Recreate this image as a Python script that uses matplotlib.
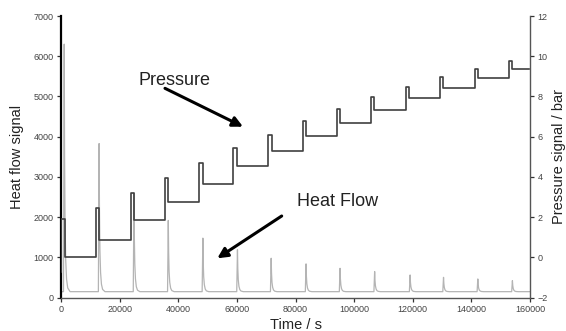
import numpy as np
import matplotlib
matplotlib.use("Agg")
import matplotlib.pyplot as plt

plt.rcParams["font.family"] = ["Liberation Sans", "DejaVu Sans"]

# -------------------------
# DATA
# -------------------------
# heat flow: baseline plus one sharp peak after each pressure step
heat_baseline = 150
peak_times = [1100, 13000, 24900, 36600, 48400, 60200, 71700, 83600,
              95200, 107000, 119100, 130500, 142200, 154000]
peak_heights = [6300, 3830, 2600, 1920, 1480, 1190, 980, 840,
                730, 650, 565, 506, 466, 424]
# peak shape: time offsets (s) and fraction of peak height above baseline
shape_dt = [-250, 0, 120, 280, 500, 800, 1200, 2000]
shape_frac = [0.0, 1.0, 0.55, 0.28, 0.13, 0.05, 0.015, 0.0]

# pressure: start level, then step up, short overshoot, settle on plateau
p_start_time = 0
p_start_level = -0.72
step_times = [0, 12000, 23900, 35500, 47200, 58800, 70750, 82500,
              94100, 105800, 117750, 129350, 141300, 152900]
settle_times = [1360, 13000, 24900, 36500, 48400, 59900, 71850, 83500,
                95200, 106900, 118800, 130400, 142200, 153800]
overshoot = [1.90, 2.44, 3.18, 3.94, 4.69, 5.44, 6.10, 6.77,
             7.40, 7.95, 8.45, 8.95, 9.36, 9.78]
plateau = [0.0, 0.88, 1.84, 2.78, 3.66, 4.53, 5.29, 6.02,
           6.69, 7.35, 7.90, 8.40, 8.90, 9.35]
p_end_time = 159700

# -------------------------
# BUILD LINES
# -------------------------
t_heat = [0]
y_heat = [heat_baseline]
for tp, hp in zip(peak_times, peak_heights):
    for dt, fr in zip(shape_dt, shape_frac):
        t_heat.append(tp + dt)
        y_heat.append(heat_baseline + fr * (hp - heat_baseline))
t_heat.append(160000)
y_heat.append(heat_baseline)

t_p = [p_start_time]
y_p = [p_start_level]
prev = p_start_level
for ts, te, po, pl in zip(step_times, settle_times, overshoot, plateau):
    t_p += [ts, ts, te, te]
    y_p += [prev, po, po, pl]
    prev = pl
t_p.append(p_end_time)
y_p.append(prev)

# -------------------------
# PLOT
# -------------------------
fig = plt.figure(figsize=(5.66, 3.31), dpi=100)
ax = fig.add_axes([61 / 566, 1 - 297.7 / 331, 469 / 566, 281.7 / 331])
ax2 = ax.twinx()

ax.plot(t_heat, y_heat, color="#b4b4b4", lw=0.9, zorder=2)
ax2.plot(t_p, y_p, color="#404040", lw=1.2, zorder=3)

ax.set_xlim(0, 160000)
ax.set_ylim(0, 7000)
ax2.set_ylim(-2, 12)
ax.set_xticks(np.arange(0, 160001, 20000))
ax.set_yticks(np.arange(0, 7001, 1000))
ax2.set_yticks(np.arange(-2, 13, 2))

for a in (ax, ax2):
    a.spines["top"].set_visible(False)
    a.tick_params(labelsize=6.5, labelcolor="#444444", length=3, width=0.9,
                  color="#333333", pad=2.5)
ax.spines["left"].set_color("black")
ax.spines["left"].set_linewidth(1.6)
ax.spines["bottom"].set_color("#555555")
ax.spines["bottom"].set_linewidth(1.0)
ax.spines["right"].set_visible(False)
ax2.spines["left"].set_visible(False)
ax2.spines["bottom"].set_visible(False)
ax2.spines["right"].set_color("#555555")
ax2.spines["right"].set_linewidth(1.0)

ax.set_xlabel("Time / s", fontsize=10.5, color="#222222", labelpad=2.5)
ax.set_ylabel("Heat flow signal", fontsize=10.5, color="#222222", labelpad=7)
ax2.set_ylabel("Pressure signal / bar", fontsize=10.5, color="#222222",
               labelpad=3)

ax.text(26600, 5285, "Pressure", fontsize=13, color="#222222", va="baseline")
ax.annotate("", xy=(62090, 4249), xytext=(35480, 5203),
            arrowprops=dict(arrowstyle="-|>,head_length=0.6,head_width=0.3",
                            color="black", lw=2.2, shrinkA=0, shrinkB=0))
ax.text(80400, 2280, "Heat Flow", fontsize=13, color="#222222", va="baseline")
ax.annotate("", xy=(53320, 979), xytext=(75290, 2030),
            arrowprops=dict(arrowstyle="-|>,head_length=0.6,head_width=0.3",
                            color="black", lw=2.2, shrinkA=0, shrinkB=0))

fig.savefig("out.png", dpi=100)
